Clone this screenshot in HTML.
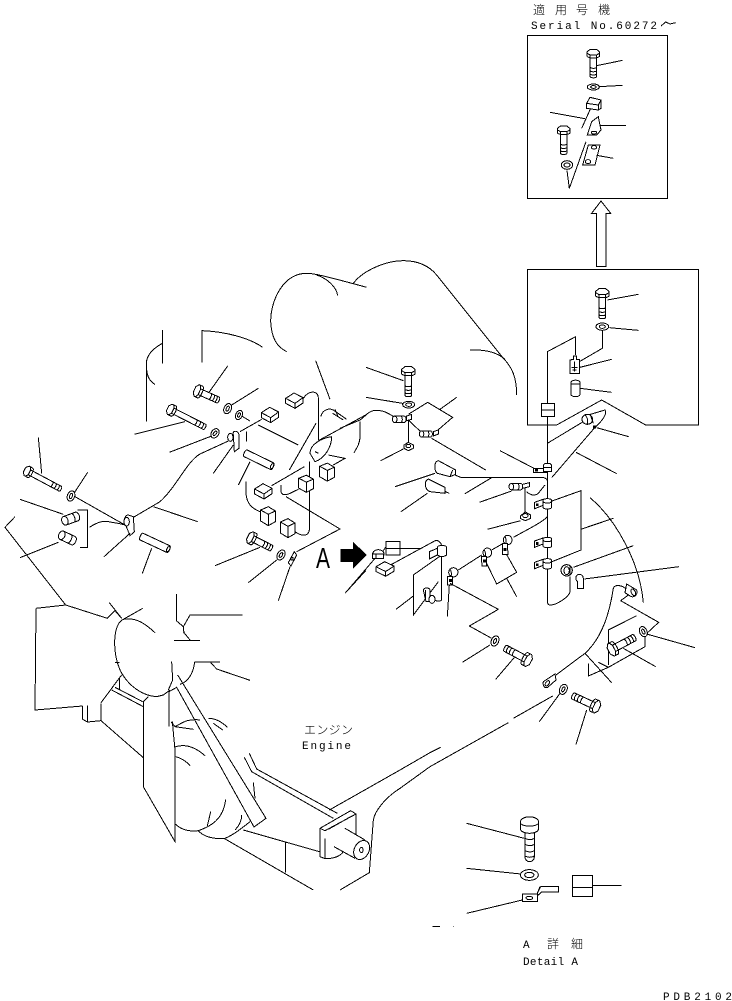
<!DOCTYPE html>
<html>
<head>
<meta charset="utf-8">
<style>
html,body{margin:0;padding:0;background:#fff;}
svg{display:block;position:absolute;left:0;top:0;}
path,ellipse,rect,circle{fill:none;stroke:#000;stroke-width:1;vector-effect:non-scaling-stroke;}
.w{fill:#fff;}
.k{fill:#000;stroke:#000;}
text{fill:#000;stroke:none;}
.m{font-family:"Liberation Mono",monospace;}
.j{font-family:"Liberation Sans","Noto Sans CJK JP",sans-serif;font-weight:300;}
</style>
</head>
<body>
<svg width="732" height="1001" viewBox="0 0 732 1001" shape-rendering="crispEdges" xmlns="http://www.w3.org/2000/svg">
<defs>
<g id="bolt">
<path class="w" d="M0,-10 H66 A4,10 0 0 1 66,10 H0 Z"/>
<path d="M36,-10 A4,10 0 0 1 36,10 M47,-10 A4,10 0 0 1 47,10 M57,-10 A4,10 0 0 1 57,10"/>
<path class="w" d="M-12,-20 L2,-20 C9,-14 9,14 2,20 L-12,20 L-20,10 V-10 Z"/>
<path d="M-8,-20 L-2,-10 V10 L-8,20 M-2,-10 H7 M-2,10 H7"/>
</g>
<g id="lbolt">
<path class="w" d="M0,-10 H110 A4,10 0 0 1 110,10 H0 Z"/>
<path d="M78,-10 A4,10 0 0 1 78,10 M90,-10 A4,10 0 0 1 90,10 M101,-10 A4,10 0 0 1 101,10"/>
<path class="w" d="M-12,-20 L2,-20 C9,-14 9,14 2,20 L-12,20 L-20,10 V-10 Z"/>
<path d="M-8,-20 L-2,-10 V10 L-8,20 M-2,-10 H7 M-2,10 H7"/>
</g>
<g id="wa"><ellipse class="w" rx="11" ry="16"/><ellipse rx="4" ry="8"/></g>
<g id="isob"><path class="w" d="M-26,-5 L-1,-21 L26,-7 V9 L2,25 L-26,10 Z"/><path d="M-26,-5 L2,10 L26,-7 M2,10 V25"/></g>
<g id="ubox"><path class="w" d="M-21,-17 L2,-27 L23,-14 V18 L2,30 L-21,16 Z"/><path d="M-21,-17 L2,-4 L23,-14 M2,-4 V30"/></g>
<g id="clp">
<path class="w" d="M-38,-4 L-13,-13 V5 L-38,15 Z"/>
<rect x="-33" y="1" width="5" height="5" class="k"/>
<path class="w" d="M-13,-9 C-13,-17 13,-17 13,-9 V10 C13,18 -13,18 -13,10 Z"/>
<path d="M-13,-7 C-10,0 10,0 13,-7"/>
</g>
<g id="cyl">
<path class="w" d="M-16,-10 L12,-10 C20,-10 20,10 12,10 L-16,10 Z"/>
<ellipse class="w" cx="-16" rx="7" ry="10"/>
<path d="M4,-10 C8,-5 8,5 4,10"/>
</g>
<g id="tube">
<path class="w" d="M0,-11 L88,-11 C94,-11 94,11 88,11 L0,11 C-6,11 -6,-11 0,-11 Z"/>
<ellipse cx="88" rx="4" ry="8"/>
</g>
</defs>

<!-- Z6: cloud -->
<g transform="translate(140,250) scale(.33333)">
<path d="M440,305 C410,290 395,265 392,215 C392,150 430,70 500,70 C520,70 545,75 680,112"/>
<path d="M530,75 C560,85 590,110 593,137"/>
<path d="M640,100 C670,60 740,32 790,32 C830,32 865,45 890,75 L1090,325 C1115,350 1130,380 1130,435"/>
<path d="M990,300 C1040,298 1075,310 1095,328"/>
</g>

<!-- Z1: left-upper -->
<g transform="translate(0,330) scale(.33333)">
<path d="M487,0 V100 M487,40 C460,55 440,75 439,100 V275 M440,120 C442,140 450,155 465,163"/>
<path d="M606,98 V2 C680,5 750,25 788,52"/>
<path d="M683,108 L625,190"/>
<use href="#bolt" transform="translate(600,186) rotate(24) scale(.9,.95)"/>
<path d="M775,175 L695,225"/>
<use href="#wa" transform="translate(683,236) rotate(25)"/>
<use href="#wa" transform="translate(717,255) rotate(25) scale(.9)"/>
<path d="M725,258 L750,273"/>
<path d="M403,313 L555,275"/>
<use href="#lbolt" transform="translate(520,243) rotate(27) scale(.95,.85)"/>
<use href="#wa" transform="translate(645,310) rotate(35) scale(1,.95)"/>
<path d="M508,367 L635,318"/>
<path d="M785,268 L720,305 M685,333 L600,372 C560,395 530,470 480,515 L395,565"/>
<use href="#isob" transform="translate(810,253)"/>
<path class="w" d="M700,315 C695,300 715,300 717,315 V355 L703,365 Z"/>
<ellipse cx="691" cy="322" rx="8" ry="12" class="w"/>
<path d="M739,305 V335 M775,285 L895,345"/>
<path d="M910,205 C925,180 955,180 955,205 V330"/>
<use href="#isob" transform="translate(883,210)"/>
<path d="M947,92 L990,208 M962,260 C970,235 990,235 1000,240"/>
<path d="M1000,240 L1040,268 M998,250 L1030,270 M1005,238 L1015,262"/>
<path d="M1097,255 L955,332"/>
<path d="M995,320 C960,325 930,345 930,370 L945,395 C975,385 995,350 995,320 M945,365 L955,370 M985,375 L1035,385 L1000,405"/>
<path d="M1080,275 V320 C1080,340 1070,355 1062,368 M948,280 L868,420 M928,395 V600 C925,620 905,620 885,605"/>
<use href="#ubox" transform="translate(980,425) scale(1,.95)"/>
<use href="#ubox" transform="translate(917,460) scale(1,.9)"/>
<path d="M913,410 L815,467 M843,465 V485 C845,495 855,497 870,490 L895,478"/>
<use href="#isob" transform="translate(790,482)"/>
<use href="#ubox" transform="translate(803,557)"/>
<use href="#ubox" transform="translate(862,593)"/>
<path d="M858,500 L1020,597 L890,665 M738,455 V490 C740,520 755,535 780,545"/>
<path class="w" d="M883,665 L890,675 L873,708 L865,698 Z"/>
<rect x="873" y="683" width="6" height="7"/>
<use href="#bolt" transform="translate(760,627) rotate(27) scale(.9,.95)"/>
<path d="M645,707 L780,652"/>
<use href="#wa" transform="translate(843,675) rotate(30)"/>
<path d="M745,758 L830,690 M835,812 L870,710"/>
<path class="k" d="M1023,658 H1060 V638 L1098,675 L1060,713 V695 H1023 Z"/>
<path d="M1035,790 L1097,722"/>
<!-- left cluster -->
<path d="M115,322 L125,430"/>
<use href="#lbolt" transform="translate(90,428) rotate(28) scale(.93,.8)"/>
<path d="M263,427 L222,490 M225,500 L375,585"/>
<use href="#wa" transform="translate(213,498) rotate(20)"/>
<path d="M60,508 L190,553 M60,683 L175,637"/>
<path d="M232,540 H262 V652 H240 M268,592 C295,575 310,572 325,575 C340,578 360,580 375,585"/>
<use href="#cyl" transform="translate(215,565) rotate(-20) scale(1.35)"/>
<use href="#cyl" transform="translate(205,625) rotate(25) scale(1.35)"/>
<path class="w" d="M385,555 C375,555 370,570 375,580 L390,617 L403,605 L400,560 Z"/>
<ellipse cx="380" cy="575" rx="8" ry="13" class="w"/>
<path d="M312,680 L390,610"/>
<use href="#tube" transform="translate(425,620) rotate(25)"/>
<path d="M427,730 L455,655 M460,530 L593,575"/>
<use href="#tube" transform="translate(737,370) rotate(26)"/>
<path d="M715,465 L750,395 M640,430 L700,345"/>
<path d="M45,560 L15,592 L197,825"/>
</g>
<text class="j" x="316" y="568" font-size="29" textLength="14" lengthAdjust="spacingAndGlyphs">A</text>

<!-- Z3: fan, engine base -->
<g transform="translate(0,590) scale(.33333)">
<path d="M197,45 L322,85 L345,62 L365,85 M108,55 L197,45 M108,55 L105,360 L248,348 M248,348 V388 L262,396 L303,392 M262,347 V395 M303,340 V392 L430,503 M303,338 L365,255 M328,38 L365,85 M428,55 L370,88"/>
<path d="M370,88 C340,100 335,180 360,240 C385,290 430,318 470,320 L490,315 L510,300 M370,88 C410,80 440,105 465,128 M345,218 H358"/>
<path d="M530,12 V93 L550,110 L570,75 H728 M550,125 L570,150 M550,110 L552,130 M522,151 H600"/>
<path d="M515,215 L518,270 L505,300 M584,216 H660 M584,216 C580,250 565,275 540,283 M632,218 L650,237 L750,271"/>
<path d="M430,335 V590 L525,755 V470 M430,335 L445,320 M507,305 L530,292 L762,711 L798,685 L533,255 M507,305 V410 M517,395 L525,480"/>
<path d="M335,300 L430,350 M345,292 L428,335 M358,265 V300"/>
<path d="M513,395 L525,410 C545,400 560,385 600,390 M525,410 L580,418 M625,385 C650,385 670,400 682,412 M640,400 L668,420 M527,470 C560,460 590,475 615,497 M527,500 C545,505 560,515 570,527"/>
<path d="M527,703 C545,720 570,725 595,722 C610,740 640,748 675,745 C700,735 725,715 750,695 M595,722 C630,710 670,690 677,628 M622,708 L632,665 M705,720 C720,705 725,690 725,675"/>
<path d="M760,578 L765,625 M733,502 L755,545 L1000,685 M748,490 L770,537 L1012,670"/>
<path d="M730,720 L958,785 M672,745 L940,900 M857,758 V848"/>
<path d="M988,660 L1050,625 L1200,540 L1290,488 M1290,530 L1200,595 C1160,620 1125,660 1120,690 L1108,848 L1020,900"/>
<path class="w" d="M960,715 L1052,662 L1068,672 V790 L1030,785 C1020,800 1000,806 975,806 L960,800 Z"/>
<path d="M960,715 L975,722 L1068,672 M975,745 V806 M985,718 L1052,680"/>
<path class="w" d="M1035,715 L1095,750 L1065,805 L1002,770 Z" style="stroke:none"/>
<path d="M1035,715 L1095,750 M1002,770 L1065,805"/>
<ellipse cx="1085" cy="780" rx="22" ry="30" transform="rotate(28 1085 780)" class="w"/>
<ellipse cx="1084" cy="780" rx="5" ry="8"/>
</g>
<text class="j" x="304" y="734" font-size="12" textLength="49" lengthAdjust="spacing">エンジン</text>
<text class="m" x="302" y="749" font-size="11" textLength="49" lengthAdjust="spacing">Engine</text>

<!-- Z2: right-middle -->
<g transform="translate(340,330) scale(.33333)">
<path d="M78,112 L190,152 M78,202 L187,220"/>
<use href="#bolt" transform="translate(205,130) rotate(90)"/>
<ellipse cx="206" cy="224" rx="18" ry="10"/><ellipse cx="206" cy="224" rx="9" ry="5"/>
<path d="M0,295 L60,270 C75,260 85,243 105,241 C130,240 145,250 165,262"/>
<path d="M205,262 V340 M122,392 L190,357"/>
<use href="#cyl" transform="translate(180,268) scale(1,.95)"/>
<path class="w" d="M200,258 L215,253 V268 L200,272 Z"/>
<path class="w" d="M192,345 L205,337 L220,345 V355 L205,362 L192,355 Z"/><ellipse cx="205" cy="348" rx="7" ry="5"/>
<path d="M205,253 L263,217 L338,262 L280,312 M300,238 L350,202 M205,270 L245,308 M275,325 L437,420"/>
<use href="#cyl" transform="translate(260,312) scale(.95)"/>
<path class="w" d="M280,305 L295,300 V312 L280,318 Z"/>
<path d="M165,470 L285,430 M345,435 L362,442 H605 C615,442 622,448 622,452 M375,491 L455,443"/>
<path class="w" d="M295,392 C280,395 283,425 292,430 L330,440 L347,433 V420 Z"/><path d="M330,440 L338,420"/>
<path d="M183,545 L262,490 M300,478 L328,490"/>
<path class="w" d="M265,447 C250,455 255,480 270,485 L315,490 V472 Z"/>
<path d="M480,362 L582,415"/>
<path class="w" d="M581,415 H622 V428 H581 Z"/><rect x="586" y="418" width="6" height="5" class="k"/>
<path d="M622,65 L707,20 V75 M622,65 V812 C622,825 628,825 632,825 C650,825 688,800 690,785 V740"/>
<path class="w" d="M610,405 C615,398 630,398 635,405 V425 H610 Z"/><path d="M610,413 H635"/>
<rect class="w" x="605" y="220" width="38" height="40"/><path d="M605,240 H643"/>
<path d="M622,340 L730,275 M745,255 L795,240 C802,250 790,270 765,292 L635,443 M770,293 L866,320 M708,367 L830,431"/>
<ellipse cx="742" cy="268" rx="16" ry="15" class="w"/><path d="M735,255 C745,265 745,280 740,285 M752,257 L760,280"/>
<rect class="k" x="760" y="288" width="6" height="6"/>
<use href="#clp" transform="translate(622,521)"/>
<use href="#clp" transform="translate(622,637)"/>
<use href="#clp" transform="translate(622,701)"/>
<path d="M636,513 L723,482 V660 L636,695 M725,597 L820,565"/>
<path d="M750,503 C830,570 900,700 910,818"/>
<path d="M700,712 L880,647"/>
<circle cx="680" cy="721" r="17" class="w"/>
<ellipse cx="680" cy="722" rx="8" ry="12"/><path d="M690,708 V735"/>
<path d="M733,747 L1017,710"/>
<path class="w" d="M708,742 C708,730 730,730 730,745 V775 H713 V755 C708,752 708,748 708,742 Z"/>
<path d="M418,517 L515,483 M555,470 V548 M442,598 L542,572 M560,485 C575,500 590,495 595,490 L615,465"/>
<use href="#cyl" transform="translate(530,470) scale(1,.95)"/>
<path class="w" d="M548,463 L568,458 V470 L548,475 Z"/>
<path class="w" d="M542,557 L556,546 L572,555 V565 L556,572 L542,566 Z"/><ellipse cx="556" cy="557" rx="8" ry="6"/>
<path d="M622,560 C610,575 560,600 520,622 M495,665 L530,727 L470,762 L435,690 M355,720 L425,675 M455,660 L490,640 M500,745 L530,800"/>
<ellipse class="w" cx="503" cy="630" rx="13" ry="14"/><path d="M495,620 C500,630 500,640 495,645"/>
<path class="w" d="M487,640 H502 L504,673 H487 Z"/><rect class="k" x="492" y="655" width="6" height="6"/>
<ellipse class="w" cx="442" cy="668" rx="13" ry="14"/><path d="M432,658 C438,668 438,678 432,683"/>
<path class="w" d="M424,680 H440 V708 H426 Z"/><rect class="k" x="430" y="690" width="6" height="6"/>
<ellipse class="w" cx="340" cy="727" rx="14" ry="14"/><path d="M330,717 C336,727 336,737 330,742"/>
<path class="w" d="M322,740 H338 V765 H322 Z"/><rect class="k" x="328" y="748" width="6" height="6"/>
<path d="M322,860 L328,765"/>
<path d="M15,790 L105,685"/>
<ellipse class="w" cx="115" cy="672" rx="17" ry="13"/><path class="w" d="M98,672 H130 V685 H98 Z"/><path d="M108,672 V685"/>
<rect class="w" x="138" y="635" width="42" height="40"/><path d="M138,655 H245 M130,662 L138,650"/>
<use href="#isob" transform="translate(135,715) scale(1.05,.95)"/>
<path d="M155,703 L280,635 C295,625 305,640 305,650 M305,680 V810 C300,815 290,815 285,810 M305,675 L220,735 V855 L295,755 M168,838 L220,798"/>
<path class="w" d="M268,665 L292,655 V675 L268,687 Z"/>
<path class="w" d="M292,652 C292,645 320,645 320,652 V672 C320,682 292,682 292,672 Z"/>
<path class="w" d="M250,780 C252,772 268,772 270,780 V815 H258 Z"/><ellipse class="w" cx="276" cy="808" rx="9" ry="12"/>
<path d="M256,780 V812"/>
</g>

<!-- Z7: inset lower -->
<g transform="translate(520,260) scale(.33333)">
<path d="M23,28 V495 H110 L245,420 L377,495 H535 V28 Z"/>
<use href="#bolt" transform="translate(247,106) rotate(90)"/>
<path d="M262,120 L355,103 M268,203 L355,211 M247,210 V265 L178,305 M180,322 L275,298 M180,385 L275,397"/>
<ellipse class="w" cx="247" cy="200" rx="19" ry="11"/><ellipse cx="247" cy="200" rx="9" ry="5"/>
<path class="w" d="M150,300 L160,298 V288 H170 V298 H178 V340 H150 Z"/><path d="M164,305 V335 M155,322 H172 M157,330 H170"/>
<path class="w" d="M153,368 C153,358 180,358 180,368 V403 C180,412 153,412 153,403 Z"/><path d="M153,372 H180"/>
</g>

<!-- Z4: top inset -->
<g transform="translate(500,0) scale(.33333)">
<path d="M82,107 H502 V595 H82 Z"/>
<path class="w" d="M290,800 V640 H275 L303,603 L332,640 H318 V800 Z"/>
<use href="#bolt" transform="translate(280,167) rotate(90) scale(.95)"/>
<path d="M290,197 L368,181 M298,260 L368,256"/>
<ellipse cx="280" cy="261" rx="18" ry="9"/><ellipse cx="280" cy="261" rx="8" ry="4"/>
<path class="w" d="M260,310 L270,292 L303,300 V325 L295,330 L260,325 Z"/><path d="M260,310 L295,315 V330 M295,315 L303,300"/>
<path d="M150,337 L255,356 M272,325 L245,385"/>
<path class="w" d="M275,365 L295,350 L303,390 L290,405 H262 Z"/><ellipse cx="282" cy="398" rx="8" ry="4"/>
<path d="M300,376 H378"/>
<use href="#bolt" transform="translate(191,397) rotate(90) scale(.95)"/>
<ellipse cx="201" cy="495" rx="17" ry="13"/><ellipse cx="201" cy="495" rx="9" ry="6"/>
<path d="M201,512 L208,565 L258,425"/>
<path class="w" d="M265,435 H300 L285,495 H248 Z"/><ellipse cx="282" cy="442" rx="8" ry="5"/><ellipse cx="264" cy="485" rx="8" ry="6"/>
<path d="M290,466 L340,475"/>
<path d="M483,78 L497,66 L510,72 L527,68"/>
</g>
<text class="j" x="533 555 576 598" y="14" font-size="12">適用号機</text>
<text class="m" x="531" y="29" font-size="11" textLength="126" lengthAdjust="spacing">Serial No.60272</text>

<!-- Z5: lower right -->
<g transform="translate(430,560) scale(.33333)">
<path d="M0,620 L235,488 M250,475 L368,408 M0,578 L32,562"/>
<path d="M97,307 L180,255 M205,148 L118,198 L185,235 M60,70 L205,148"/>
<use href="#wa" transform="translate(195,243) rotate(25)"/>
<use href="#bolt" transform="translate(285,296) rotate(208)"/>
<path d="M197,358 L255,290"/>
<path d="M378,345 L465,280 C520,230 540,150 550,85 C555,72 580,75 590,90 M572,122 L595,105 M572,122 L686,187 L645,225 V260 L535,322 M535,210 L620,167 M535,210 V315"/>
<path class="w" d="M590,72 L620,90 C625,105 610,115 600,108 L585,98 Z"/><ellipse cx="610" cy="97" rx="6" ry="11" transform="rotate(-25 610 97)"/>
<path d="M465,280 L545,368 M475,310 V348 L535,322 M505,307 L535,322"/>
<path class="w" d="M340,365 L375,342 L378,360 L352,383 C342,385 338,375 340,365 Z"/><ellipse cx="352" cy="370" rx="5" ry="9" transform="rotate(35 352 370)"/>
<use href="#bolt" transform="translate(554,264) rotate(-28) scale(1,1.05)"/>
<path d="M580,265 L677,320"/>
<use href="#wa" transform="translate(640,215) rotate(-25)"/>
<path d="M650,222 L795,263"/>
<use href="#wa" transform="translate(400,388) rotate(25)"/>
<path d="M328,485 L390,400 M438,553 L470,450"/>
<use href="#bolt" transform="translate(490,436) rotate(205)"/>
<!-- Detail A -->
<path d="M110,790 L283,835 M110,925 L272,942 M110,1060 L277,1020"/>
<path class="w" d="M285,815 H313 V890 C313,910 285,910 285,890 Z"/>
<path d="M285,835 C295,840 305,840 313,835 M285,853 C295,858 305,858 313,853 M285,872 C295,877 305,877 313,872 M285,888 C295,893 305,893 313,888"/>
<path class="w" d="M271,787 C271,765 326,765 326,787 V805 C326,825 271,825 271,805 Z"/>
<path d="M271,787 C271,802 326,802 326,787"/>
<ellipse cx="298" cy="945" rx="27" ry="16"/><ellipse cx="298" cy="945" rx="14" ry="8"/>
<path class="w" d="M322,1000 L332,980 H385 V996 H335 L325,1005 Z"/>
<rect class="w" x="277" y="1002" width="46" height="23"/><ellipse cx="298" cy="1014" rx="10" ry="5"/>
<path d="M322,1000 L330,980"/>
<rect x="427" y="946" width="61" height="63"/>
<path d="M427,982 H488 M488,976 H575 M8,1100 H30 M70,1100 H72"/>
</g>
<text class="m" x="523" y="948" font-size="11">A</text>
<text class="j" x="547 571" y="948" font-size="12">詳細</text>
<text class="m" x="523" y="965" font-size="11" textLength="55" lengthAdjust="spacing">Detail A</text>
<text class="m" x="663" y="1000" font-size="11" textLength="69" lengthAdjust="spacing">PDB2102</text>
</svg>
</body>
</html>
